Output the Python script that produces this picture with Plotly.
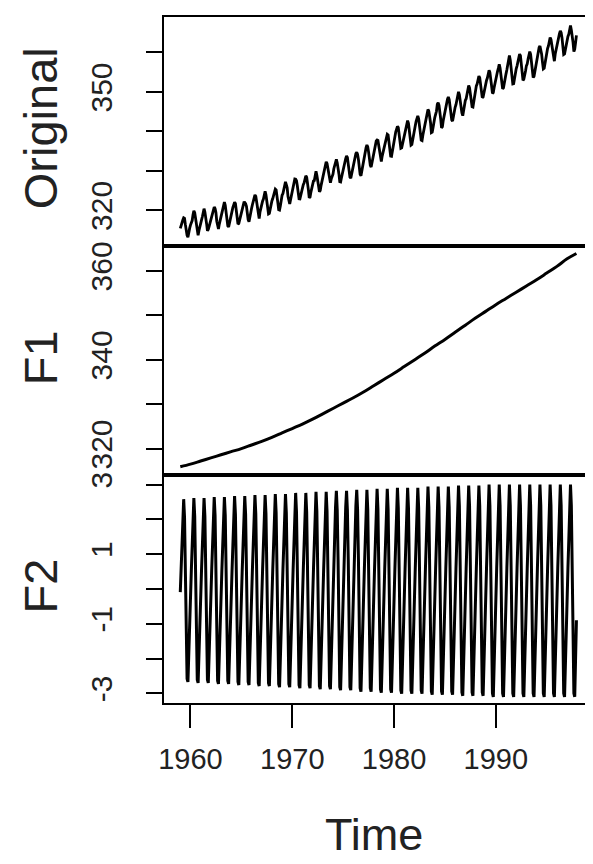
import plotly.graph_objects as go

# ---------------- data ----------------
years = list(range(1959, 1998))

co2_rows = [
    [315.42, 316.31, 316.50, 317.56, 318.13, 318.00, 316.39, 314.65, 313.68, 313.18, 314.66, 315.43],
    [316.27, 316.81, 317.42, 318.87, 319.87, 319.43, 318.01, 315.74, 314.00, 313.68, 314.84, 316.03],
    [316.73, 317.54, 318.38, 319.31, 320.42, 319.61, 318.42, 316.63, 314.83, 315.16, 315.94, 316.85],
    [317.78, 318.40, 319.53, 320.42, 320.85, 320.45, 319.45, 317.25, 316.11, 315.27, 316.53, 317.53],
    [318.58, 318.92, 319.70, 321.22, 322.08, 321.31, 319.58, 317.61, 316.05, 315.83, 316.91, 318.20],
    [319.41, 320.07, 320.74, 321.40, 322.06, 321.73, 320.27, 318.54, 316.54, 316.71, 317.53, 318.55],
    [319.27, 320.28, 320.73, 321.97, 322.00, 321.71, 321.05, 318.71, 317.66, 317.14, 318.70, 319.25],
    [320.46, 321.43, 322.23, 323.54, 323.91, 323.59, 322.24, 320.20, 318.48, 317.94, 319.63, 320.87],
    [322.17, 322.34, 322.88, 324.25, 324.83, 323.93, 322.38, 320.76, 319.10, 319.24, 320.56, 321.80],
    [322.40, 322.99, 323.73, 324.86, 325.40, 325.20, 323.98, 321.95, 320.18, 320.09, 321.16, 322.74],
    [323.83, 324.26, 325.47, 326.50, 327.21, 326.54, 325.72, 323.50, 322.22, 321.62, 322.69, 323.95],
    [324.89, 325.82, 326.77, 327.97, 327.91, 327.50, 326.18, 324.53, 322.93, 322.90, 323.85, 324.96],
    [326.01, 326.51, 327.01, 327.62, 328.76, 328.40, 327.20, 325.27, 323.20, 323.40, 324.63, 325.85],
    [326.60, 327.47, 327.58, 329.56, 329.90, 328.92, 327.88, 326.16, 324.68, 325.04, 326.34, 327.39],
    [328.37, 329.40, 330.14, 331.33, 332.31, 331.90, 330.70, 329.15, 327.35, 327.02, 327.99, 328.48],
    [329.18, 330.55, 331.32, 332.48, 332.92, 332.08, 331.01, 329.23, 327.27, 327.21, 328.29, 329.41],
    [330.23, 331.25, 331.87, 333.14, 333.80, 333.43, 331.73, 329.90, 328.40, 328.17, 329.32, 330.59],
    [331.58, 332.39, 333.33, 334.41, 334.71, 334.17, 332.89, 330.77, 329.14, 328.78, 330.14, 331.52],
    [332.75, 333.24, 334.53, 335.90, 336.57, 336.10, 334.76, 332.59, 331.42, 330.98, 332.24, 333.68],
    [334.80, 335.22, 336.47, 337.59, 337.84, 337.72, 336.37, 334.51, 332.60, 332.38, 333.75, 334.78],
    [336.05, 336.59, 337.79, 338.71, 339.30, 339.12, 337.56, 335.92, 333.75, 333.70, 335.12, 336.56],
    [337.84, 338.19, 339.91, 340.60, 341.29, 341.00, 339.39, 337.43, 335.72, 335.84, 336.93, 338.04],
    [339.06, 340.30, 341.21, 342.33, 342.74, 342.08, 340.32, 338.26, 336.52, 336.68, 338.19, 339.44],
    [340.57, 341.44, 342.53, 343.39, 343.96, 343.18, 341.88, 339.65, 337.81, 337.69, 339.09, 340.32],
    [341.20, 342.35, 342.93, 344.77, 345.58, 345.14, 343.81, 342.21, 339.69, 339.82, 340.98, 342.82],
    [343.52, 344.33, 345.11, 346.88, 347.25, 346.62, 345.22, 343.11, 340.90, 341.18, 342.80, 344.04],
    [344.79, 345.82, 347.25, 348.17, 348.74, 348.07, 346.38, 344.51, 342.92, 342.62, 344.06, 345.38],
    [346.11, 346.78, 347.68, 349.37, 350.03, 349.37, 347.76, 345.73, 344.68, 343.99, 345.48, 346.72],
    [347.84, 348.29, 349.23, 350.80, 351.66, 351.07, 349.33, 347.92, 346.27, 346.18, 347.64, 348.78],
    [350.25, 351.54, 352.05, 353.41, 354.04, 353.62, 352.22, 350.27, 348.55, 348.72, 349.91, 351.18],
    [352.60, 352.92, 353.53, 355.26, 355.52, 354.97, 353.75, 351.52, 349.64, 349.83, 351.14, 352.37],
    [353.50, 354.55, 355.23, 356.04, 357.00, 356.07, 354.67, 352.76, 350.82, 351.04, 352.69, 354.07],
    [354.59, 355.63, 357.03, 358.48, 359.22, 358.12, 356.06, 353.92, 352.05, 352.11, 353.64, 354.89],
    [355.88, 356.63, 357.72, 359.07, 359.58, 359.17, 356.94, 354.92, 352.94, 353.23, 354.09, 355.33],
    [356.63, 357.10, 358.32, 359.41, 360.23, 359.55, 357.53, 355.48, 353.67, 353.95, 355.30, 356.78],
    [358.34, 358.89, 359.95, 361.25, 361.67, 360.94, 359.55, 357.49, 355.84, 356.00, 357.59, 359.05],
    [359.98, 361.03, 361.66, 363.48, 363.82, 363.30, 361.94, 359.50, 358.11, 357.80, 359.61, 360.74],
    [362.09, 363.29, 364.06, 364.76, 365.45, 365.01, 363.70, 361.54, 359.51, 359.65, 360.80, 362.38],
    [363.23, 364.06, 364.61, 366.40, 366.84, 365.68, 364.52, 362.57, 360.24, 360.83, 362.49, 364.34],
]

# F1: smooth trend component, read at the start of each year (+ final month)
f1_time = [1959, 1960, 1961, 1962, 1963, 1964, 1965, 1966, 1967, 1968,
           1969, 1970, 1971, 1972, 1973, 1974, 1975, 1976, 1977, 1978,
           1979, 1980, 1981, 1982, 1983, 1984, 1985, 1986, 1987, 1988,
           1989, 1990, 1991, 1992, 1993, 1994, 1995, 1996, 1997, 1997.917]
f1_values = [316.0, 316.6, 317.3, 318.0, 318.7, 319.4, 320.1, 320.9, 321.7, 322.6,
             323.6, 324.6, 325.6, 326.7, 327.9, 329.1, 330.3, 331.5, 332.8, 334.2,
             335.6, 337.0, 338.5, 340.0, 341.5, 343.1, 344.6, 346.2, 347.8, 349.4,
             350.9, 352.4, 353.8, 355.2, 356.6, 358.0, 359.5, 361.0, 362.7, 363.9]

# F2: seasonal component, monthly values per year
f2_rows = [
    [-0.09, 0.52, 1.20, 2.15, 2.58, 2.06, 0.77, -1.03, -2.58, -2.67, -1.72, -0.77],
    [-0.09, 0.52, 1.22, 2.18, 2.61, 2.09, 0.78, -1.04, -2.61, -2.70, -1.74, -0.78],
    [-0.09, 0.52, 1.22, 2.18, 2.61, 2.09, 0.78, -1.04, -2.61, -2.70, -1.74, -0.78],
    [-0.09, 0.53, 1.23, 2.20, 2.64, 2.11, 0.79, -1.06, -2.64, -2.73, -1.76, -0.79],
    [-0.09, 0.53, 1.23, 2.20, 2.64, 2.11, 0.79, -1.06, -2.64, -2.73, -1.76, -0.79],
    [-0.09, 0.53, 1.25, 2.23, 2.67, 2.14, 0.80, -1.07, -2.67, -2.76, -1.78, -0.80],
    [-0.09, 0.53, 1.25, 2.23, 2.67, 2.14, 0.80, -1.07, -2.67, -2.76, -1.78, -0.80],
    [-0.09, 0.54, 1.26, 2.25, 2.70, 2.16, 0.81, -1.08, -2.70, -2.79, -1.80, -0.81],
    [-0.09, 0.54, 1.26, 2.25, 2.70, 2.16, 0.81, -1.08, -2.70, -2.79, -1.80, -0.81],
    [-0.09, 0.55, 1.27, 2.28, 2.73, 2.18, 0.82, -1.09, -2.73, -2.82, -1.82, -0.82],
    [-0.09, 0.55, 1.27, 2.28, 2.73, 2.18, 0.82, -1.09, -2.73, -2.82, -1.82, -0.82],
    [-0.09, 0.55, 1.29, 2.30, 2.76, 2.21, 0.83, -1.10, -2.76, -2.85, -1.84, -0.83],
    [-0.09, 0.55, 1.29, 2.30, 2.76, 2.21, 0.83, -1.10, -2.76, -2.85, -1.84, -0.83],
    [-0.09, 0.56, 1.30, 2.33, 2.79, 2.23, 0.84, -1.12, -2.79, -2.88, -1.86, -0.84],
    [-0.09, 0.56, 1.30, 2.33, 2.79, 2.23, 0.84, -1.12, -2.79, -2.88, -1.86, -0.84],
    [-0.09, 0.56, 1.32, 2.35, 2.82, 2.26, 0.85, -1.13, -2.82, -2.91, -1.88, -0.85],
    [-0.09, 0.56, 1.32, 2.35, 2.82, 2.26, 0.85, -1.13, -2.82, -2.91, -1.88, -0.85],
    [-0.10, 0.57, 1.33, 2.38, 2.85, 2.28, 0.86, -1.14, -2.85, -2.95, -1.90, -0.86],
    [-0.10, 0.57, 1.33, 2.38, 2.85, 2.28, 0.86, -1.14, -2.85, -2.95, -1.90, -0.86],
    [-0.10, 0.58, 1.34, 2.40, 2.88, 2.30, 0.86, -1.15, -2.88, -2.98, -1.92, -0.86],
    [-0.10, 0.58, 1.34, 2.40, 2.88, 2.30, 0.86, -1.15, -2.88, -2.98, -1.92, -0.86],
    [-0.10, 0.58, 1.36, 2.43, 2.91, 2.33, 0.87, -1.16, -2.91, -3.01, -1.94, -0.87],
    [-0.10, 0.58, 1.36, 2.43, 2.91, 2.33, 0.87, -1.16, -2.91, -3.01, -1.94, -0.87],
    [-0.10, 0.58, 1.36, 2.43, 2.91, 2.33, 0.87, -1.16, -2.91, -3.01, -1.94, -0.87],
    [-0.10, 0.59, 1.37, 2.45, 2.94, 2.35, 0.88, -1.18, -2.94, -3.04, -1.96, -0.88],
    [-0.10, 0.59, 1.37, 2.45, 2.94, 2.35, 0.88, -1.18, -2.94, -3.04, -1.96, -0.88],
    [-0.10, 0.59, 1.37, 2.45, 2.94, 2.35, 0.88, -1.18, -2.94, -3.04, -1.96, -0.88],
    [-0.10, 0.59, 1.39, 2.48, 2.97, 2.38, 0.89, -1.19, -2.97, -3.07, -1.98, -0.89],
    [-0.10, 0.59, 1.39, 2.48, 2.97, 2.38, 0.89, -1.19, -2.97, -3.07, -1.98, -0.89],
    [-0.10, 0.59, 1.39, 2.48, 2.97, 2.38, 0.89, -1.19, -2.97, -3.07, -1.98, -0.89],
    [-0.10, 0.60, 1.40, 2.50, 3.00, 2.40, 0.90, -1.20, -3.00, -3.10, -2.00, -0.90],
    [-0.10, 0.60, 1.40, 2.50, 3.00, 2.40, 0.90, -1.20, -3.00, -3.10, -2.00, -0.90],
    [-0.10, 0.60, 1.40, 2.50, 3.00, 2.40, 0.90, -1.20, -3.00, -3.10, -2.00, -0.90],
    [-0.10, 0.60, 1.40, 2.50, 3.00, 2.40, 0.90, -1.20, -3.00, -3.10, -2.00, -0.90],
    [-0.10, 0.60, 1.40, 2.50, 3.00, 2.40, 0.90, -1.20, -3.00, -3.10, -2.00, -0.90],
    [-0.10, 0.60, 1.40, 2.50, 3.00, 2.40, 0.90, -1.20, -3.00, -3.10, -2.00, -0.90],
    [-0.10, 0.60, 1.40, 2.50, 3.00, 2.40, 0.90, -1.20, -3.00, -3.10, -2.00, -0.90],
    [-0.10, 0.60, 1.40, 2.50, 3.00, 2.40, 0.90, -1.20, -3.00, -3.10, -2.00, -0.90],
    [-0.10, 0.60, 1.40, 2.50, 3.00, 2.40, 0.90, -1.20, -3.00, -3.10, -2.00, -0.90],
]

x_tick_vals = [1960, 1970, 1980, 1990]
x_tick_text = ["1960", "1970", "1980", "1990"]
y1_tick_vals = [320, 330, 340, 350, 360]
y1_tick_text = ["320", "", "", "350", ""]
y2_tick_vals = [320, 330, 340, 350, 360]
y2_tick_text = ["320", "", "340", "", "360"]
y3_tick_vals = [-3, -2, -1, 0, 1, 2, 3]
y3_tick_text = ["-3", "", "-1", "", "1", "", "3"]
panel_titles = ["Original", "F1", "F2"]
x_title = "Time"

# ---------------- figure ----------------
month_time = [y + m / 12 for y in years for m in range(12)]
co2 = [v for row in co2_rows for v in row]
f2 = [v for row in f2_rows for v in row]

OFF = 8                      # page body margin of the browser
W, H = 593 - OFF, 864 - OFF  # figure size so that it fits the window


def px(p):
    return (p - OFF) / W


def py(p):
    return 1 - (p - OFF) / H


xdom = [px(160), px(591)]
ydoms = [[py(243), py(13)], [py(473), py(243)], [py(702), py(473)]]

fig = go.Figure()
fig.add_trace(go.Scatter(x=month_time, y=co2, mode="lines",
                         line=dict(color="black", width=2.8),
                         xaxis="x", yaxis="y", showlegend=False))
fig.add_trace(go.Scatter(x=f1_time, y=f1_values, mode="lines",
                         line=dict(color="black", width=3, shape="spline"),
                         xaxis="x2", yaxis="y2", showlegend=False))
fig.add_trace(go.Scatter(x=month_time, y=f2, mode="lines",
                         line=dict(color="black", width=3),
                         xaxis="x3", yaxis="y3", showlegend=False))

xr = [1957.37, 1999.35]
frame = dict(showline=True, mirror=True, linecolor="black", linewidth=2,
             showgrid=False, zeroline=False)
tick_font_y = dict(family="Liberation Sans, Arial, sans-serif", size=30, color="#222")
tick_font_x = dict(family="Liberation Sans, Arial, sans-serif", size=29, color="#222")
ytick = dict(tickangle=-90, ticks="outside", ticklen=16, tickwidth=2, tickcolor="black",
             tickfont=tick_font_y, ticklabelstandoff=22)

layout = dict(
    width=W, height=H, margin=dict(l=0, r=0, t=0, b=0),
    paper_bgcolor="white", plot_bgcolor="white", showlegend=False,
    xaxis=dict(domain=xdom, range=xr, anchor="y", showticklabels=False, ticks="", **frame),
    xaxis2=dict(domain=xdom, range=xr, anchor="y2", showticklabels=False, ticks="", **frame),
    xaxis3=dict(domain=xdom, range=xr, anchor="y3", tickvals=x_tick_vals, ticktext=x_tick_text,
                ticks="outside", ticklen=23, tickwidth=2, tickcolor="black",
                tickfont=tick_font_x, ticklabelstandoff=6, **frame),
    yaxis=dict(domain=ydoms[0], range=[311.0, 369.0], anchor="x",
               tickvals=y1_tick_vals, ticktext=y1_tick_text, **ytick, **frame),
    yaxis2=dict(domain=ydoms[1], range=[314.2, 365.6], anchor="x2",
                tickvals=y2_tick_vals, ticktext=y2_tick_text, **ytick, **frame),
    yaxis3=dict(domain=ydoms[2], range=[-3.27, 3.28], anchor="x3",
                tickvals=y3_tick_vals, ticktext=y3_tick_text, **ytick, **frame),
)
fig.update_layout(**layout)

title_font = dict(family="Liberation Sans, Arial, sans-serif", size=47, color="#222")
for title, dom in zip(panel_titles, ydoms):
    fig.add_annotation(text=title, xref="paper", yref="paper",
                       x=px(36), y=(dom[0] + dom[1]) / 2 + 3 / H, textangle=-90,
                       xanchor="center", yanchor="middle", showarrow=False,
                       font=title_font)

fig.add_annotation(text=x_title, xref="paper", yref="paper",
                   x=px(372), y=py(834), xanchor="center", yanchor="middle",
                   showarrow=False,
                   font=dict(family="Liberation Sans, Arial, sans-serif", size=45, color="#222"))

fig.write_html("out.html")
